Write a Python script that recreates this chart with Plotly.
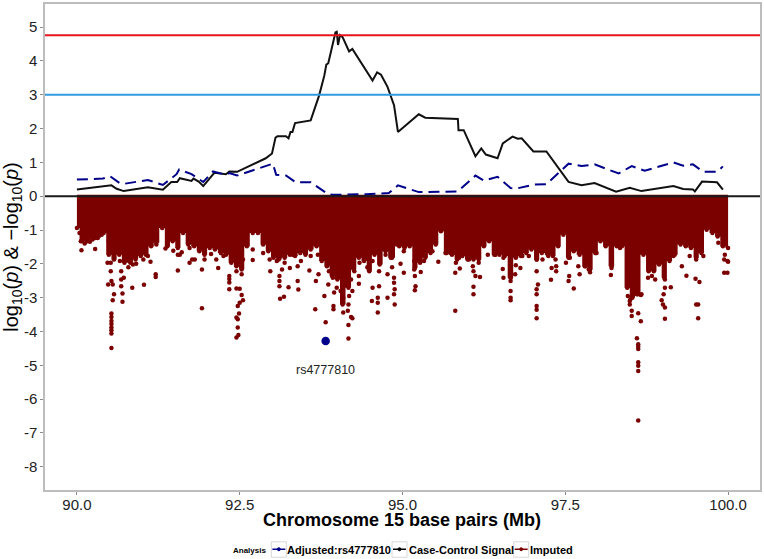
import plotly.graph_objects as go

FONT = "Liberation Sans, Arial, sans-serif"

signal_mb = [90.0,90.505,90.53,90.61,90.72,91.09,91.32,91.45,91.54,91.58,91.76,91.79,91.87,91.94,92.09,92.11,92.29,92.34,92.46,92.90,92.996,93.05,93.08,93.21,93.25,93.28,93.31,93.35,93.59,93.72,93.80,93.83,93.86,93.97,93.99,94.01,94.04,94.08,94.18,94.23,94.54,94.61,94.67,94.77,94.87,94.93,95.25,95.35,95.85,95.86,95.94,96.12,96.21,96.28,96.46,96.54,96.69,96.77,96.83,97.01,97.21,97.55,97.75,97.95,98.28,98.49,98.67,99.16,99.31,99.46,99.49,99.60,99.83,99.92]
signal_val = [0.20,0.30,0.32,0.22,0.15,0.26,0.19,0.42,0.42,0.53,0.45,0.52,0.43,0.30,0.63,0.69,0.65,0.73,0.72,1.12,1.26,1.73,1.77,1.77,1.71,1.90,1.90,2.16,2.24,2.98,3.57,3.89,3.93,4.84,4.86,4.47,4.76,4.70,4.28,4.35,3.42,3.66,3.59,3.23,2.69,1.90,2.42,2.32,2.28,1.95,1.95,1.18,1.41,1.23,1.12,1.56,1.76,1.70,1.71,1.32,1.32,0.42,0.32,0.39,0.13,0.25,0.15,0.30,0.21,0.20,0.14,0.43,0.41,0.19]

adjusted_mb = [90.0,90.40,90.51,90.66,90.74,91.09,91.32,91.53,91.57,91.76,91.94,92.09,92.29,92.34,92.46,93.01,93.06,93.21,93.36,93.59,93.85,93.93,94.44,94.79,94.93,95.25,95.85,96.12,96.25,96.46,96.66,96.76,97.01,97.21,97.55,97.75,97.95,98.32,98.52,98.72,99.16,99.31,99.46,99.62,99.83,99.92]
adjusted_val = [0.49,0.52,0.59,0.38,0.37,0.48,0.33,0.65,0.79,0.65,0.42,0.73,0.63,0.68,0.61,0.96,0.63,0.61,0.41,0.41,0.07,0.04,0.06,0.09,0.32,0.12,0.14,0.61,0.46,0.57,0.24,0.23,0.34,0.35,0.96,0.89,0.94,0.67,0.89,0.75,1.00,0.90,0.94,0.72,0.72,0.88]

# lower edge of the solid band of imputed SNPs
band_mb = [90.00,90.08,90.16,90.24,90.32,90.41,90.49,90.57,90.65,90.73,90.82,90.90,90.98,91.06,91.14,91.22,91.31,91.39,91.47,91.55,91.63,91.71,91.80,91.88,91.96,92.04,92.12,92.21,92.29,92.37,92.45,92.53,92.61,92.70,92.78,92.86,92.94,93.02,93.10,93.19,93.27,93.35,93.43,93.51,93.59,93.68,93.76,93.84,93.92,94.00,94.08,94.17,94.25,94.33,94.41,94.49,94.57,94.65,94.74,94.82,94.95,95.03,95.11,95.19,95.27,95.35,95.43,95.51,95.59,95.68,95.76,95.84,95.92,96.00,96.09,96.17,96.25,96.33,96.41,96.49,96.57,96.66,96.74,96.82,96.90,96.98,97.06,97.14,97.23,97.31,97.39,97.47,97.55,97.63,97.72,97.80,97.88,97.96,98.04,98.12,98.21,98.29,98.37,98.45,98.53,98.61,98.70,98.78,98.86,98.94,99.02,99.10,99.18,99.27,99.35,99.43,99.51,99.59,99.67,99.76,99.84,99.92,100.0]
band_val = [-0.94,-1.33,-1.33,-1.28,-1.24,-1.09,-1.73,-1.87,-1.73,-1.97,-1.97,-1.87,-1.77,-1.73,-1.48,-1.38,-0.94,-1.48,-1.33,-1.53,-1.09,-1.43,-1.48,-1.63,-1.73,-1.53,-1.58,-1.68,-1.73,-1.97,-2.07,-2.17,-1.48,-1.09,-1.09,-1.43,-1.63,-1.82,-1.87,-1.82,-1.73,-1.77,-1.68,-1.73,-1.58,-1.48,-1.92,-2.07,-2.36,-2.46,-3.20,-2.71,-2.17,-1.82,-1.92,-2.22,-1.73,-2.02,-1.63,-1.82,-1.48,-1.53,-1.48,-2.12,-1.97,-1.82,-1.68,-1.43,-1.04,-1.68,-1.73,-1.87,-1.77,-1.87,-1.87,-1.87,-1.48,-1.33,-1.73,-1.73,-1.77,-2.41,-1.82,-1.77,-1.68,-1.58,-1.87,-1.68,-1.73,-1.77,-1.48,-1.14,-1.82,-1.63,-1.73,-2.07,-2.17,-1.68,-1.33,-1.48,-2.07,-1.48,-1.48,-2.71,-3.00,-2.90,-1.73,-2.22,-2.22,-2.02,-2.41,-1.92,-1.73,-1.43,-1.48,-1.53,-1.82,-1.68,-0.99,-1.09,-1.19,-1.48,-1.53]
band_top = 0.04

# isolated imputed SNPs below the band
snp_mb = [90.07,90.28,90.53,90.53,90.53,90.53,90.53,90.53,90.53,90.53,90.55,90.57,90.48,90.53,90.55,90.52,90.68,90.70,90.70,90.68,90.85,91.03,91.21,91.21,91.55,91.92,91.92,91.58,91.73,91.81,92.17,92.34,92.34,92.34,92.34,92.45,92.50,92.53,92.55,92.50,92.47,92.49,92.45,92.47,92.47,92.48,92.45,92.70,92.97,93.11,93.11,93.11,93.12,93.18,93.25,93.39,93.40,93.57,93.66,93.67,93.71,93.80,93.82,93.86,93.95,93.94,93.94,94.09,94.16,94.17,94.18,94.21,94.23,94.17,94.17,94.23,94.33,94.33,94.54,94.53,94.62,94.62,94.62,94.77,94.64,94.77,94.88,94.87,94.88,94.84,94.87,94.87,95.02,94.97,95.19,95.20,95.19,95.28,95.55,95.81,95.81,95.88,95.82,96.08,96.09,96.12,96.19,96.09,96.09,96.54,96.55,96.66,96.66,96.66,96.73,96.66,96.66,96.66,96.74,96.81,97.06,97.06,97.06,97.06,97.06,97.08,97.06,97.28,97.29,97.36,97.36,97.56,97.55,97.63,97.51,97.72,97.88,98.20,98.46,98.49,98.49,98.52,98.52,98.62,98.66,98.60,98.62,98.62,98.62,98.62,98.62,98.62,98.62,98.66,98.77,98.88,99.03,99.03,99.00,98.98,99.01,99.12,99.03,99.36,99.50,99.56,99.51,99.54,99.54,99.94,99.99,100.0,99.94]
snp_val = [-1.60,-1.56,-4.49,-3.47,-3.57,-3.69,-3.78,-3.88,-3.96,-4.06,-3.08,-2.90,-2.61,-2.51,-2.61,-2.22,-2.66,-2.88,-3.12,-2.46,-2.71,-2.62,-2.31,-2.39,-2.20,-3.31,-2.17,-1.73,-1.97,-1.87,-2.12,-2.36,-2.45,-2.55,-2.75,-2.73,-2.74,-2.92,-3.08,-3.15,-3.25,-3.47,-3.59,-3.64,-3.88,-4.10,-4.18,-1.89,-2.22,-2.36,-2.51,-2.66,-3.03,-2.97,-2.69,-2.51,-2.76,-2.20,-3.34,-2.51,-2.31,-2.95,-3.73,-2.61,-2.85,-3.25,-3.34,-3.44,-3.39,-3.20,-2.95,-3.57,-3.61,-3.81,-4.21,-2.80,-2.36,-2.59,-2.71,-3.10,-3.00,-3.15,-3.44,-3.00,-2.66,-2.31,-3.20,-2.90,-2.75,-2.10,-2.41,-2.56,-2.26,-2.00,-2.78,-2.66,-2.36,-2.24,-1.94,-3.39,-2.26,-2.14,-1.97,-2.07,-2.22,-2.36,-2.39,-2.68,-2.90,-2.15,-2.41,-2.31,-2.51,-2.41,-2.31,-2.80,-3.00,-3.08,-2.04,-2.12,-3.61,-3.36,-3.25,-2.90,-2.75,-2.61,-2.22,-2.47,-2.12,-2.22,-2.07,-2.36,-2.51,-2.73,-1.97,-2.31,-2.25,-2.33,-2.95,-3.10,-3.20,-3.39,-3.54,-3.46,-3.70,-4.20,-4.38,-4.45,-4.52,-4.91,-5.01,-5.17,-6.63,-2.92,-2.41,-2.46,-3.62,-3.29,-3.20,-3.08,-2.90,-2.69,-2.71,-2.35,-2.44,-2.54,-3.20,-3.20,-3.61,-2.26,-2.26,-1.94,-1.87]

# SNPs on the ragged fringe of the band
fringe_mb = [90.04,90.06,90.12,90.20,90.28,90.38,90.49,90.52,90.47,90.58,90.66,90.68,90.72,90.79,90.86,90.91,91.02,91.09,91.13,91.22,91.36,91.48,91.55,91.61,91.73,91.77,91.93,91.96,92.06,92.14,92.25,92.37,92.50,92.53,92.45,92.55,92.70,92.86,92.96,93.07,93.15,93.19,93.27,93.31,93.39,93.44,93.59,93.70,93.75,93.87,93.93,93.99,94.05,94.09,94.21,94.26,94.34,94.46,94.54,94.64,94.74,94.84,94.92,95.02,95.18,95.18,95.33,95.46,95.66,95.74,95.87,96.02,96.17,96.31,96.43,96.55,96.66,96.84,96.94,97.06,97.15,97.24,97.35,97.57,97.70,97.81,97.86,97.98,98.21,98.34,98.47,98.50,98.60,98.67,98.70,98.83,98.93,99.03,99.16,99.29,99.41,99.51,99.62,99.85,99.95,99.99]
fringe_val = [-1.09,-1.33,-1.40,-1.35,-1.24,-1.14,-1.33,-1.97,-1.97,-1.63,-1.92,-2.22,-2.41,-2.10,-2.02,-2.00,-1.87,-1.77,-1.94,-1.43,-1.55,-1.61,-1.73,-1.66,-1.53,-1.87,-1.53,-1.87,-1.71,-1.87,-1.77,-1.87,-2.02,-2.31,-2.22,-1.87,-1.58,-1.68,-1.87,-1.92,-2.17,-1.97,-2.12,-1.73,-2.07,-1.92,-1.77,-1.73,-1.43,-2.22,-2.41,-2.71,-2.80,-3.00,-2.46,-2.22,-1.97,-2.10,-1.92,-2.22,-1.73,-1.82,-1.43,-1.63,-1.92,-2.17,-1.92,-1.63,-1.68,-1.68,-1.82,-1.87,-1.97,-1.73,-1.73,-1.82,-1.97,-1.77,-1.77,-1.87,-1.87,-1.77,-1.87,-1.82,-2.07,-2.07,-2.17,-1.68,-2.12,-1.53,-2.66,-3.05,-2.90,-2.90,-1.68,-2.36,-1.97,-2.46,-1.77,-2.07,-1.77,-1.87,-1.77,-1.38,-1.73,-1.92]

lead_mb = [93.82]
lead_val = [-4.28]
lead_label = "rs4777810"

genomewide = 4.76
suggestive = 3.0

x_ticks = [90.0, 92.5, 95.0, 97.5, 100.0]
y_ticks = [5, 4, 3, 2, 1, 0, -1, -2, -3, -4, -5, -6, -7, -8]

x_title = "Chromosome 15 base pairs (Mb)"
legend_title = "Analysis"
legend_names = ["Adjusted:rs4777810", "Case-Control Signal", "Imputed"]

RED = "#7b0000"
BLUE = "#00008b"
BLACK = "#000000"
legend_colors = [BLUE, BLACK, RED]

fig = go.Figure()

fig.add_trace(go.Scatter(
    x=band_mb + band_mb[::-1],
    y=band_val + [band_top] * len(band_mb),
    mode="lines", fill="toself", fillcolor=RED,
    line=dict(width=0, color=RED, shape="hvh"), showlegend=False, hoverinfo="skip"))
fig.add_trace(go.Scatter(x=band_mb, y=band_val, mode="markers",
    marker=dict(size=4.5, color=RED), showlegend=False))
fig.add_trace(go.Scatter(x=fringe_mb, y=fringe_val, mode="markers",
    marker=dict(size=4.5, color=RED), showlegend=False))
fig.add_trace(go.Scatter(x=snp_mb, y=snp_val, mode="markers",
    marker=dict(size=4.5, color=RED), showlegend=False))
fig.add_trace(go.Scatter(x=signal_mb, y=signal_val, mode="lines",
    line=dict(color="#111111", width=2), showlegend=False))
fig.add_trace(go.Scatter(x=adjusted_mb, y=adjusted_val, mode="lines",
    line=dict(color=BLUE, width=2, dash="11px,6px"), showlegend=False))
fig.add_trace(go.Scatter(x=lead_mb, y=lead_val, mode="markers",
    marker=dict(size=8.5, color=BLUE), showlegend=False))

# panel placement in page pixels
L, R, T, B = 45, 762, 2, 490
def px(v):
    return (v - L) / (R - L)
def py(v):
    return (B - v) / (B - T)

shapes = [
    dict(type="line", xref="paper", x0=0, x1=1, yref="y", y0=genomewide, y1=genomewide,
         line=dict(color="#e8141c", width=2)),
    dict(type="line", xref="paper", x0=0, x1=1, yref="y", y0=suggestive, y1=suggestive,
         line=dict(color="#2f9be0", width=2)),
    dict(type="line", xref="paper", x0=0, x1=1, yref="y", y0=0, y1=0,
         line=dict(color="#1a1a1a", width=2)),
]
annotations = [
    dict(x=lead_mb[0], y=-5.15, text=lead_label, showarrow=False,
         font=dict(family=FONT, size=12.5, color="#222222")),
    dict(xref="paper", yref="paper", x=px(402.5), y=py(520.5), xanchor="center", yanchor="middle",
         text="<b>%s</b>" % x_title, showarrow=False,
         font=dict(family=FONT, size=18, color="#000000")),
    dict(xref="paper", yref="paper", x=px(235), y=py(550.5), xanchor="left", yanchor="middle",
         text="<b>%s</b>" % legend_title, showarrow=False, xshift=-3,
         font=dict(family=FONT, size=8, color="#000000")),
]
# legend row: bordered key with line and dot, then bold label
for name, col, kx, tx in zip(legend_names, legend_colors, [272, 393, 515], [289, 411, 532]):
    shapes.append(dict(type="rect", xref="paper", yref="paper", x0=px(kx), x1=px(kx + 15),
                       y0=py(557.5), y1=py(542), line=dict(color="#d8d8d8", width=1)))
    shapes.append(dict(type="line", xref="paper", yref="paper", x0=px(kx + 1), x1=px(kx + 14),
                       y0=py(549.5), y1=py(549.5), line=dict(color=col, width=1.5)))
    shapes.append(dict(type="circle", xref="paper", yref="paper", x0=px(kx + 6), x1=px(kx + 9),
                       y0=py(551), y1=py(548), fillcolor=col, line=dict(color=col, width=1)))
    annotations.append(dict(xref="paper", yref="paper", x=px(tx), y=py(550.5), xanchor="left",
                            yanchor="middle", text="<b>%s</b>" % name, showarrow=False, xshift=-3,
                            font=dict(family=FONT, size=11, color="#000000")))

axis = dict(showgrid=False, zeroline=False, showline=True, mirror=True,
            linecolor="#bdbdbd", linewidth=1.5, ticks="outside", ticklen=3,
            tickcolor="#8a8a8a", tickfont=dict(family=FONT, size=15, color="#222222"))

fig.update_layout(
    width=764, height=559,
    margin=dict(l=L, r=764 - R, t=T, b=559 - B),
    paper_bgcolor="white", plot_bgcolor="white",
    showlegend=False,
    shapes=shapes,
    annotations=annotations,
    xaxis=dict(axis, range=[89.51, 100.49], tickvals=x_ticks,
               ticktext=["%.1f" % t for t in x_ticks], ticklabelstandoff=-3),
    yaxis=dict(axis, range=[-8.685, 5.68], tickvals=y_ticks,
               ticktext=[str(t) for t in y_ticks],
               title=dict(text="log<sub>10</sub>(<i>p</i>) &amp; \u2212log<sub>10</sub>(<i>p</i>)", standoff=3,
                          font=dict(family=FONT, size=20, color="#000000"))),
)

fig.write_html("out.html", config={"displayModeBar": False},
               post_script="document.body.style.margin='0';")
